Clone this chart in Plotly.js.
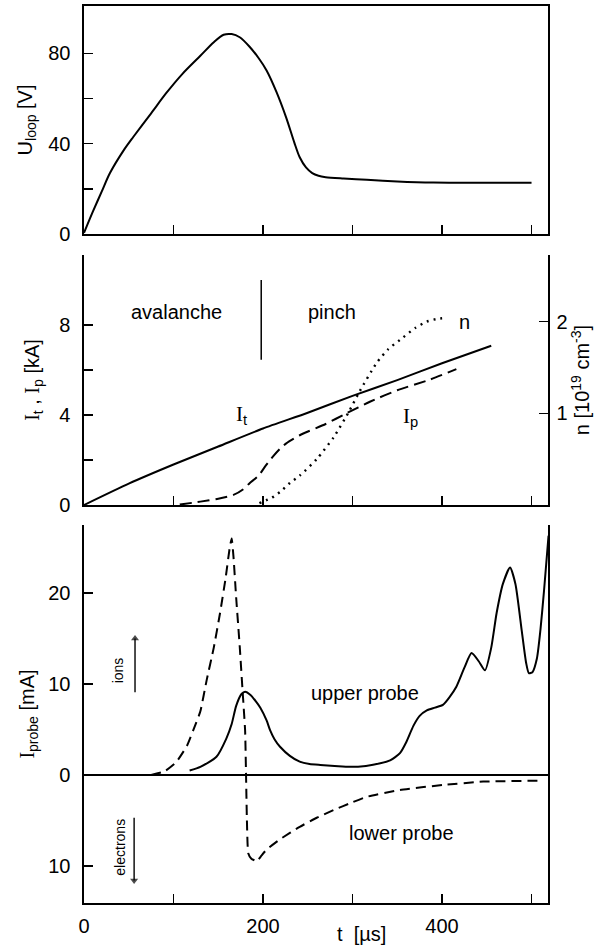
<!DOCTYPE html>
<html>
<head>
<meta charset="utf-8">
<script src="https://cdn.plot.ly/plotly-3.0.1.min.js"></script>
<style>html,body{margin:0;padding:0;background:#fff;}#chart{width:607px;height:946px;}</style>
</head>
<body>
<div id="chart"></div>
<script>
// ---------- data ----------
// top panel: loop voltage
const uloopT = [0, 10, 20, 29, 45, 55, 75, 92, 110, 130, 145, 156, 165, 174, 185, 195, 204, 215, 226, 235, 241, 248, 255, 262, 270, 290, 316, 350, 390, 450, 500];
const uloopV = [0.5, 10, 19, 27, 37.5, 43, 53.5, 62.5, 71, 79, 85, 88.3, 88.6, 87.2, 83, 78, 72.5, 63, 51.5, 40.5, 34, 29.5, 27, 25.8, 25.2, 24.6, 24, 23.3, 22.8, 22.7, 22.7];

// middle panel: currents and density
const itT = [0, 50, 100, 150, 200, 250, 300, 350, 400, 455];
const itI = [0, 0.95, 1.8, 2.6, 3.4, 4.1, 4.85, 5.55, 6.3, 7.08];
const ipT = [107, 130, 150, 167, 178, 185, 195, 203, 211, 219, 226, 241, 270, 293, 320, 350, 385, 416];
const ipI = [0.02, 0.15, 0.28, 0.45, 0.7, 0.97, 1.3, 1.75, 2.15, 2.5, 2.74, 3.1, 3.6, 4.07, 4.6, 5.1, 5.55, 6.04];
const nT = [196, 210, 220, 230, 241, 260, 279, 295, 308, 327, 340, 353, 370, 383, 395, 405];
const nN = [0.02, 0.08, 0.15, 0.24, 0.32, 0.5, 0.74, 1.0, 1.24, 1.55, 1.7, 1.8, 1.93, 2.0, 2.03, 2.04];
const dividerT = [198, 198];
const dividerI = [6.45, 10];

// bottom panel: probe currents (ions positive, electrons negative)
const upperT = [118, 130, 148, 159, 165, 170, 176, 180, 186, 192, 197, 204, 208, 213, 219, 230, 241, 252, 264, 280, 297, 315, 331, 342, 353, 360, 368, 375, 383, 392, 401, 408, 416, 425, 433, 441, 448, 455, 461, 468, 476, 482, 489, 494, 497, 501, 506, 510, 514, 519];
const upperI = [0.5, 0.9, 2.0, 4.0, 5.6, 7.6, 8.9, 9.15, 8.8, 8.1, 7.4, 6.0, 4.9, 3.9, 3.1, 2.1, 1.46, 1.2, 1.1, 1.0, 0.9, 1.0, 1.28, 1.6, 2.4, 3.6, 5.4, 6.5, 7.1, 7.4, 7.7, 8.5, 9.7, 11.8, 13.4, 12.5, 11.5, 14.0, 17.8, 21, 22.8, 21, 15.9, 12.3, 11.2, 11.3, 12.8, 16, 20.3, 26.3];
const lowerT = [75, 90, 103, 115, 122, 130, 137, 145, 152, 158, 163, 165, 167, 170, 174, 177, 180, 181, 182, 183.5, 187, 191, 193, 198, 204, 220, 241, 260, 279, 300, 316, 353, 401, 446, 511];
const lowerI = [0, 0.4, 1.4, 3.2, 4.9, 7, 10.4, 14, 17.8, 21.5, 25.1, 26, 24, 19.5, 14.1, 9.5, 4.9, 0.2, -4.9, -8.6, -9.2, -9.4, -9.5, -8.9, -8.2, -7.0, -5.7, -4.7, -3.85, -3.0, -2.4, -1.65, -1.1, -0.73, -0.63];

// direction arrows (ions up, electrons down)
const ionsArrowT = [57, 57];
const ionsArrowI = [9.1, 15.0];
const electronsArrowT = [56, 56];
const electronsArrowI = [-4.7, -11.6];

// tick values and labels
const xLabelVals = [0, 200, 400];
const xLabelText = ['0', '200', '400'];
const xMinorVals = [100, 300, 500];
const xAllTicks = [100, 200, 300, 400, 500];
const uTickVals = [0, 40, 80];
const uTickText = ['0', '40', '80'];
const uMinorVals = [20, 60];
const iTickVals = [0, 4, 8];
const iTickText = ['0', '4', '8'];
const iMinorVals = [2, 6];
const nTickVals = [1, 2];
const nTickText = ['1', '2'];
const pTickVals = [-10, 0, 10, 20];
const pTickText = ['10', '0', '10', '20'];

// ---------- layout ----------
const FONT = 'Liberation Sans, Arial, sans-serif';
const SERIF_I = '<span style="font-family:Liberation Serif">I</span>';
const xRange = [0, 518.4];
const pRange = [-14.07, 27.47];
const pDomain = [0, 0.4209];
const zeroPos = pDomain[0] + (pDomain[1] - pDomain[0]) * (0 - pRange[0]) / (pRange[1] - pRange[0]);

const traces = [
  {x: uloopT, y: uloopV, xaxis: 'x3', yaxis: 'y3', mode: 'lines', line: {color: 'black', width: 2, shape: 'spline', smoothing: 0.8}, name: 'U_loop'},
  {x: itT, y: itI, xaxis: 'x2', yaxis: 'y2', mode: 'lines', line: {color: 'black', width: 2, shape: 'spline', smoothing: 0.6}, name: 'I_t'},
  {x: ipT, y: ipI, xaxis: 'x2', yaxis: 'y2', mode: 'lines', line: {color: 'black', width: 2, dash: '12px,6px', shape: 'spline', smoothing: 0.6}, name: 'I_p'},
  {x: nT, y: nN, xaxis: 'x2', yaxis: 'y4', mode: 'lines', line: {color: 'black', width: 2.4, dash: '2px,5px', shape: 'spline', smoothing: 0.6}, name: 'n'},
  {x: dividerT, y: dividerI, xaxis: 'x2', yaxis: 'y2', mode: 'lines', line: {color: 'black', width: 1.5}, name: 'divider'},
  {x: upperT, y: upperI, xaxis: 'x', yaxis: 'y', mode: 'lines', line: {color: 'black', width: 2, shape: 'spline', smoothing: 0.6}, name: 'upper probe'},
  {x: lowerT, y: lowerI, xaxis: 'x', yaxis: 'y', mode: 'lines', line: {color: 'black', width: 2, dash: '10px,6px', shape: 'spline', smoothing: 0.4}, name: 'lower probe'},
  {x: ionsArrowT, y: ionsArrowI, xaxis: 'x', yaxis: 'y', mode: 'lines+markers', line: {color: 'black', width: 1.4},
   marker: {symbol: ['circle', 'triangle-up'], size: [0, 7], color: 'black', line: {width: 0}}, name: 'ions arrow'},
  {x: electronsArrowT, y: electronsArrowI, xaxis: 'x', yaxis: 'y', mode: 'lines+markers', line: {color: 'black', width: 1.4},
   marker: {symbol: ['circle', 'triangle-down'], size: [0, 7], color: 'black', line: {width: 0}}, name: 'electrons arrow'}
];

const minorStyle = {ticks: 'inside', ticklen: 9, tickwidth: 1.5, tickcolor: 'black', showgrid: false};
const axBase = {
  showline: true, linecolor: 'black', linewidth: 1.6, ticks: 'inside', ticklen: 9, tickwidth: 1.5, tickcolor: 'black',
  showgrid: false, zeroline: false, tickfont: {family: FONT, size: 20, color: 'black'}, fixedrange: true
};

const layout = {
  width: 607, height: 946,
  margin: {l: 84, r: 59, t: 5, b: 43},
  paper_bgcolor: 'white', plot_bgcolor: 'white',
  showlegend: false,
  font: {family: FONT, size: 20, color: 'black'},
  // bottom panel (probe)
  xaxis: Object.assign({}, axBase, {domain: [0, 1], range: xRange, anchor: 'y', tickmode: 'array', tickvals: xLabelVals, ticktext: xLabelText, ticklabelstandoff: 4,
    minor: Object.assign({tickmode: 'array', tickvals: xMinorVals}, minorStyle)}),
  yaxis: Object.assign({}, axBase, {domain: pDomain, range: pRange, anchor: 'x', mirror: true, tickmode: 'array', tickvals: pTickVals, ticktext: pTickText,
    zeroline: true, zerolinecolor: 'black', zerolinewidth: 1.6, ticklabelstandoff: 8,
    title: {text: SERIF_I + '<sub>probe</sub> [mA]', font: {family: FONT, size: 20}, standoff: 8}}),
  // zero-line crossing ticks
  xaxis4: {overlaying: 'x', matches: 'x', anchor: 'free', position: zeroPos, showline: false, ticks: 'outside', ticklen: 7, tickwidth: 1.5, tickcolor: 'black', tickmode: 'array', tickvals: xAllTicks, showticklabels: false, showgrid: false, zeroline: false, range: xRange},
  xaxis5: {overlaying: 'x', matches: 'x', anchor: 'free', position: zeroPos, showline: false, ticks: 'inside', ticklen: 7, tickwidth: 1.5, tickcolor: 'black', tickmode: 'array', tickvals: xAllTicks, showticklabels: false, showgrid: false, zeroline: false, range: xRange},
  // middle panel
  xaxis2: Object.assign({}, axBase, {domain: [0, 1], range: xRange, anchor: 'y2', tickmode: 'array', tickvals: xAllTicks, showticklabels: false, matches: 'x'}),
  yaxis2: Object.assign({}, axBase, {domain: [0.4432, 0.7216], range: [0, 11.11], anchor: 'x2', tickmode: 'array', tickvals: iTickVals, ticktext: iTickText, ticklabelstandoff: 8,
    minor: Object.assign({tickmode: 'array', tickvals: iMinorVals}, minorStyle),
    title: {text: SERIF_I + '<sub>t</sub> , ' + SERIF_I + '<sub>p</sub> [kA]', font: {family: FONT, size: 20}, standoff: 14}}),
  yaxis4: Object.assign({}, axBase, {overlaying: 'y2', side: 'right', anchor: 'x2', range: [0, 2.726], tickmode: 'array', tickvals: nTickVals, ticktext: nTickText, ticklabelstandoff: 3,
    title: {text: 'n [10<sup>19</sup> cm<sup>-3</sup>]', font: {family: FONT, size: 20}, standoff: 6}}),
  // top panel
  xaxis3: Object.assign({}, axBase, {domain: [0, 1], range: xRange, anchor: 'y3', tickmode: 'array', tickvals: xAllTicks, showticklabels: false, mirror: true, matches: 'x'}),
  yaxis3: Object.assign({}, axBase, {domain: [0.745, 0.999], range: [0, 101.1], anchor: 'x3', mirror: true, tickmode: 'array', tickvals: uTickVals, ticktext: uTickText, ticklabelstandoff: 8,
    minor: Object.assign({tickmode: 'array', tickvals: uMinorVals}, minorStyle),
    title: {text: 'U<sub>loop</sub> [V]', font: {family: FONT, size: 20}, standoff: 10}}),
  annotations: [
    {text: 'avalanche', x: 103, y: 8.58, xref: 'x2', yref: 'y2', showarrow: false, font: {size: 20}},
    {text: 'pinch', x: 277, y: 8.58, xref: 'x2', yref: 'y2', showarrow: false, font: {size: 20}},
    {text: SERIF_I + '<sub>t</sub>', x: 176, y: 4.0, xref: 'x2', yref: 'y2', showarrow: false, font: {size: 21}},
    {text: SERIF_I + '<sub>p</sub>', x: 365, y: 3.9, xref: 'x2', yref: 'y2', showarrow: false, font: {size: 21}},
    {text: 'n', x: 425, y: 2.0, xref: 'x2', yref: 'y4', showarrow: false, font: {size: 20}},
    {text: 'upper probe', x: 314, y: 9.0, xref: 'x', yref: 'y', showarrow: false, font: {size: 20}},
    {text: 'lower probe', x: 355, y: -6.4, xref: 'x', yref: 'y', showarrow: false, font: {size: 20}},
    {text: 'ions', x: 38, y: 11.5, xref: 'x', yref: 'y', showarrow: false, textangle: -90, font: {size: 14}},
    {text: 'electrons', x: 40, y: -7.9, xref: 'x', yref: 'y', showarrow: false, textangle: -90, font: {size: 14}},
    {text: 't  [µs]', x: 310, y: -0.005, xref: 'x', yref: 'paper', yanchor: 'top', yshift: -14, showarrow: false, font: {size: 20}}
  ]
};

Plotly.newPlot('chart', traces, layout, {staticPlot: true, displayModeBar: false});
</script>
</body>
</html>
